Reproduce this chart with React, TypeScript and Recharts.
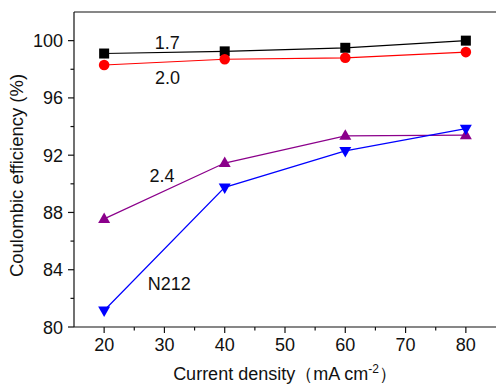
import React from 'react';
import {
  LineChart,
  Line,
  XAxis,
  YAxis,
  ReferenceLine,
  ReferenceDot,
} from 'recharts';

const currents = [20, 40, 60, 80];
const ce17 = [99.1, 99.25, 99.5, 100.0];
const ce20 = [98.3, 98.7, 98.8, 99.2];
const ce24 = [87.55, 91.45, 93.35, 93.4];
const ceN212 = [81.15, 89.75, 92.3, 93.85];

const xTicks = [20, 25, 30, 35, 40, 45, 50, 55, 60, 65, 70, 75, 80];
const xMajor = [20, 30, 40, 50, 60, 70, 80];
const yTicks = [80, 82, 84, 86, 88, 90, 92, 94, 96, 98, 100];
const yMajor = [80, 84, 88, 92, 96, 100];

const data = currents.map((c, i) => ({
  current: c,
  s17: ce17[i],
  s20: ce20[i],
  s24: ce24[i],
  n212: ceN212[i],
}));

const FONT = '"Liberation Sans", Arial, sans-serif';
const AXIS = '#111';
const FS = 18;

const XTick = (props: any) => {
  const { x, y, payload } = props;
  const major = xMajor.includes(payload.value);
  return (
    <g>
      <line x1={x} x2={x} y1={y} y2={y + (major ? 6 : 3.5)} stroke={AXIS} strokeWidth={1.2} />
      {major && (
        <text x={x} y={y + 24} textAnchor="middle" fontSize={FS} fill="#111" fontFamily={FONT}>
          {payload.value}
        </text>
      )}
    </g>
  );
};

const YTick = (props: any) => {
  const { x, y, payload } = props;
  const major = yMajor.includes(payload.value);
  return (
    <g>
      <line x1={x} x2={x - (major ? 6 : 3.5)} y1={y} y2={y} stroke={AXIS} strokeWidth={1.2} />
      {major && (
        <text x={x - 11} y={y + 6.5} textAnchor="end" fontSize={FS} fill="#111" fontFamily={FONT}>
          {payload.value}
        </text>
      )}
    </g>
  );
};

const Square = (props: any) => {
  const { cx, cy } = props;
  if (cx == null || cy == null) return null;
  return <rect x={cx - 5} y={cy - 5} width={10} height={10} fill="#000" />;
};

const Circle = (props: any) => {
  const { cx, cy } = props;
  if (cx == null || cy == null) return null;
  return <circle cx={cx} cy={cy} r={5.3} fill="#ff0000" />;
};

const TriUp = (props: any) => {
  const { cx, cy } = props;
  if (cx == null || cy == null) return null;
  return <polygon points={`${cx},${cy - 6.5} ${cx - 6},${cy + 4} ${cx + 6},${cy + 4}`} fill="#8b008b" />;
};

const TriDown = (props: any) => {
  const { cx, cy } = props;
  if (cx == null || cy == null) return null;
  return <polygon points={`${cx},${cy + 6.5} ${cx - 6},${cy - 4} ${cx + 6},${cy - 4}`} fill="#0000ff" />;
};

const XLabel = (props: any) => {
  const { viewBox } = props;
  const cx = viewBox.x + viewBox.width / 2;
  return (
    <text x={cx} y={viewBox.y + 53} textAnchor="middle" fontSize={FS} fill="#111" fontFamily={FONT}>
      Current density（mA cm
      <tspan dy={-7} fontSize={12}>-2</tspan>
      <tspan dy={7}>）</tspan>
    </text>
  );
};

const YLabel = (props: any) => {
  const { viewBox } = props;
  const cy = viewBox.y + viewBox.height / 2 + 6;
  return (
    <text
      x={23}
      y={cy}
      transform={`rotate(-90, 23, ${cy})`}
      textAnchor="middle"
      fontSize={18.5}
      fill="#111"
      fontFamily={FONT}
    >
      Coulombic efficiency (%)
    </text>
  );
};

const note = (value: string) => ({
  value,
  position: 'center' as const,
  fontSize: FS,
  fill: '#111',
  fontFamily: FONT,
});

export default function App() {
  return (
    <div style={{ position: 'absolute', left: 0, top: 0, background: '#fff' }}>
      <LineChart
        width={496}
        height={385}
        data={data}
        margin={{ top: 12, right: 0, bottom: 0, left: 0 }}
      >
        <XAxis
          dataKey="current"
          type="number"
          domain={[15, 85]}
          ticks={xTicks}
          interval={0}
          tickSize={0}
          tickMargin={0}
          tick={<XTick />}
          height={58}
          axisLine={{ stroke: AXIS, strokeWidth: 1.2 }}
          label={<XLabel />}
        />
        <YAxis
          type="number"
          domain={[80, 102]}
          ticks={yTicks}
          interval={0}
          tickSize={0}
          tickMargin={0}
          tick={<YTick />}
          width={74}
          axisLine={{ stroke: AXIS, strokeWidth: 1.2 }}
          label={<YLabel />}
        />
        <ReferenceLine y={102} stroke={AXIS} strokeWidth={1.2} />
        <Line dataKey="s17" stroke="#000" strokeWidth={1.2} dot={<Square />} isAnimationActive={false} />
        <Line dataKey="s20" stroke="#ff0000" strokeWidth={1.2} dot={<Circle />} isAnimationActive={false} />
        <Line dataKey="s24" stroke="#8b008b" strokeWidth={1.2} dot={<TriUp />} isAnimationActive={false} />
        <Line dataKey="n212" stroke="#0000ff" strokeWidth={1.2} dot={<TriDown />} isAnimationActive={false} />
        <ReferenceDot x={30.45} y={99.87} r={0} stroke="none" label={note('1.7')} />
        <ReferenceDot x={30.5} y={97.39} r={0} stroke="none" label={note('2.0')} />
        <ReferenceDot x={29.6} y={90.6} r={0} stroke="none" label={note('2.4')} />
        <ReferenceDot x={30.8} y={83.0} r={0} stroke="none" label={note('N212')} />
      </LineChart>
    </div>
  );
}
